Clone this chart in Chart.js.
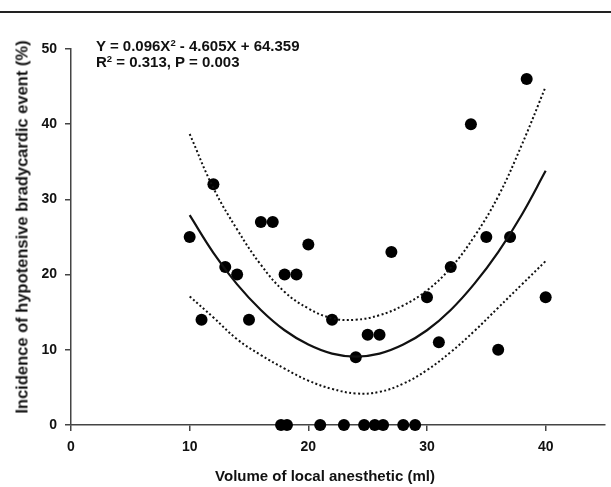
<!DOCTYPE html>
<html>
<head>
<meta charset="utf-8">
<script src="https://cdn.jsdelivr.net/npm/chart.js@4/dist/chart.umd.min.js"></script>
<style>
  html, body { margin: 0; padding: 0; background: #fff; }
  #wrap { position: relative; width: 611px; height: 487px; overflow: hidden; }
  #topline { position: absolute; left: 0; top: 11px; width: 611px; height: 2px; background: #222; }
  .txt { position: absolute; font-family: "Liberation Sans", Arial, sans-serif; font-weight: bold; color: #111; white-space: nowrap; }
  #eq { left: 96px; top: 38px; font-size: 15px; line-height: 16px; }
  #eq sup { font-size: 9.5px; line-height: 0; vertical-align: 5px; }
  #xt { left: 325px; top: 475px; font-size: 15px; transform: translate(-50%, -50%); }
  #yt { left: 22px; top: 227px; font-size: 16.5px; transform: translate(-50%, -50%) rotate(-90deg); }
  canvas { position: absolute; left: 0; top: 0; }
</style>
</head>
<body>
<div id="wrap">
  <canvas id="c" width="611" height="487"></canvas>
  <div id="topline"></div>
  <div id="eq" class="txt">Y = 0.096X<sup>2</sup> - 4.605X + 64.359<br>R<sup>2</sup> = 0.313, P = 0.003</div>
  <div id="xt" class="txt"></div>
  <div id="yt" class="txt"></div>
</div>
<script>
// Observed points: volume (ml) and incidence (%)
const volumes   = [10, 11, 12, 13, 14, 15, 16, 17, 18, 19, 20, 22, 24, 25, 26, 27, 30, 31, 32, 33.7, 35, 36, 37, 38.4, 40,
                   17.7, 18.2, 21.0, 23.0, 24.7, 25.6, 26.3, 28.0, 29.0];
const incidence = [25, 14, 32, 21, 20, 14, 27, 27, 20, 20, 24, 14, 9, 12, 12, 23, 17, 11, 21, 40, 25, 10, 25, 46, 17,
                   0, 0, 0, 0, 0, 0, 0, 0, 0];

// Fitted curve and 95% band at these volumes
const curveX   = [10, 12, 14, 16, 18, 20, 22, 24, 26, 28, 30, 32, 34, 36, 38, 40];
const fitY     = [27.9, 22.9, 18.7, 15.3, 12.6, 10.7, 9.5, 9.1, 9.5, 10.7, 12.6, 15.3, 18.8, 23.0, 28.0, 33.8];
const upperY   = [38.7, 31.5, 26.0, 21.3, 17.7, 15.5, 14.2, 14.0, 14.6, 15.9, 17.9, 20.9, 25.1, 30.4, 37.3, 45.0];
const lowerY   = [17.1, 14.3, 11.4, 9.3, 7.5, 5.9, 4.8, 4.2, 4.4, 5.5, 7.3, 9.7, 12.5, 15.6, 18.7, 21.8];

const xTicks = [0, 10, 20, 30, 40];
const yTicks = [0, 10, 20, 30, 40, 50];

const xTitle = 'Volume of local anesthetic (ml)';
const yTitle = 'Incidence of hypotensive bradycardic event (%)';
document.getElementById('xt').textContent = xTitle;
document.getElementById('yt').textContent = yTitle;

const FONT = '"Liberation Sans", Arial, sans-serif';
const AX = '#444';

const pts = volumes.map((v, i) => ({ x: v, y: incidence[i] }));
const fitPts = curveX.map((v, i) => ({ x: v, y: fitY[i] }));
const upPts = curveX.map((v, i) => ({ x: v, y: upperY[i] }));
const loPts = curveX.map((v, i) => ({ x: v, y: lowerY[i] }));

const lineBase = { type: 'line', pointRadius: 0, tension: 0.4, fill: false, borderColor: '#111', clip: false };

new Chart(document.getElementById('c'), {
  type: 'scatter',
  data: {
    datasets: [
      Object.assign({}, lineBase, { data: upPts, borderWidth: 2, borderDash: [2, 2.4] }),
      Object.assign({}, lineBase, { data: loPts, borderWidth: 2, borderDash: [2, 2.4] }),
      Object.assign({}, lineBase, { data: fitPts, borderWidth: 2.2 }),
      { type: 'scatter', data: pts, pointRadius: 6, pointBackgroundColor: '#000', pointBorderColor: '#000',
        pointBorderWidth: 0, clip: false }
    ]
  },
  options: {
    responsive: false,
    animation: false,
    events: [],
    layout: { padding: { top: 49, left: 0, right: 0, bottom: 0 } },
    plugins: { legend: { display: false }, tooltip: { enabled: false } },
    scales: {
      x: {
        type: 'linear', min: 0, max: 45,
        afterFit: s => { s.height = 62; },
        afterBuildTicks: s => { s.ticks = xTicks.map(v => ({ value: v })); },
        grid: { display: true, drawOnChartArea: false, drawTicks: true, tickLength: 6, color: AX, lineWidth: 1.5 },
        border: { display: true, color: AX, width: 1.5 },
        ticks: { color: '#111', padding: 8, font: { family: FONT, size: 14, weight: 'bold' }, maxRotation: 0 }
      },
      y: {
        type: 'linear', min: 0, max: 50,
        afterFit: s => { s.width = 71; },
        afterBuildTicks: s => { s.ticks = yTicks.map(v => ({ value: v })); },
        grid: { display: true, drawOnChartArea: false, drawTicks: true, tickLength: 6, color: AX, lineWidth: 1.5 },
        border: { display: true, color: AX, width: 1.5 },
        ticks: { color: '#111', padding: 8, font: { family: FONT, size: 14, weight: 'bold' } }
      }
    }
  }
});
</script>
</body>
</html>
